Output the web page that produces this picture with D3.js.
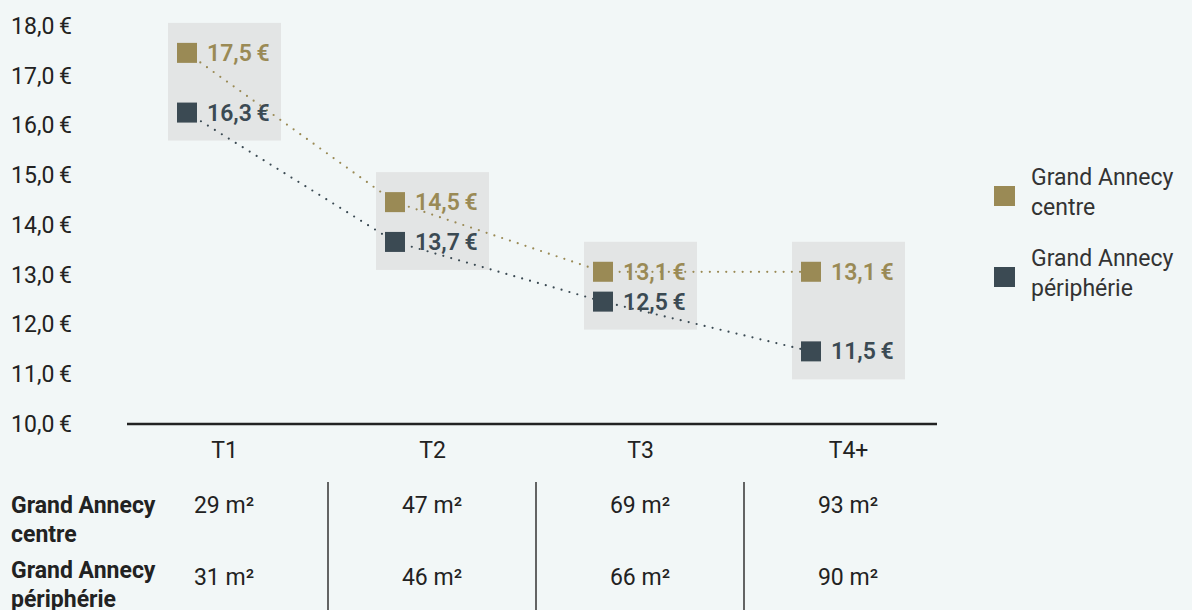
<!DOCTYPE html>
<html>
<head>
<meta charset="utf-8">
<script src="https://cdn.jsdelivr.net/npm/d3@7"></script>
<style>
  html, body { margin: 0; padding: 0; background: #f2f7f7; }
  svg { display: block; font-family: Roboto, "Noto Sans", sans-serif; }
</style>
</head>
<body>
<div id="chart"></div>
<script>
// Loyer moyen au m2 par typologie
const categories = ['T1', 'T2', 'T3', 'T4+'];
const centreValues = [17.5, 14.5, 13.1, 13.1];
const peripherieValues = [16.3, 13.7, 12.5, 11.5];
const yTickValues = [10, 11, 12, 13, 14, 15, 16, 17, 18];
const centreSurfaces = [29, 47, 69, 93];
const peripherieSurfaces = [31, 46, 66, 90];
const seriesLabels = [['Grand Annecy', 'centre'], ['Grand Annecy', 'périphérie']];

const GOLD = '#9a8a55';
const SLATE = '#3b4a53';
const BOX = '#e3e5e5';
const INK = '#222';

const width = 1192, height = 610;

const svg = d3.select('#chart').append('svg')
  .attr('width', width)
  .attr('height', height);

svg.append('rect').attr('width', width).attr('height', height).attr('fill', '#f2f7f7');

const x = d3.scalePoint().domain(categories).range([224, 848]);
const y = d3.scaleLinear().domain([10, 18]).range([426, 28]);

const fmt = v => d3.format('.1f')(v).replace('.', ',') + '\u2009€';

// y axis labels
const yAxis = d3.axisLeft(y)
  .tickValues(yTickValues)
  .tickSize(0)
  .tickPadding(0)
  .tickFormat(fmt);

const yg = svg.append('g')
  .attr('transform', 'translate(72,-2)')
  .call(yAxis);
yg.select('.domain').remove();
yg.selectAll('text')
  .attr('fill', INK)
  .style('font-family', 'Roboto, sans-serif')
  .style('font-size', '23px');

// grey boxes behind each category
const rows = categories.map((c, i) => ({
  cat: c, centre: centreValues[i], peri: peripherieValues[i]
}));

svg.append('g').selectAll('rect')
  .data(rows)
  .join('rect')
  .attr('x', d => x(d.cat) - 56)
  .attr('y', d => y(Math.max(d.centre, d.peri)) - 30)
  .attr('width', 113)
  .attr('height', d => y(Math.min(d.centre, d.peri)) - y(Math.max(d.centre, d.peri)) + 58)
  .attr('fill', BOX);

// dotted connecting lines
const markerX = d => x(d) - 37;
const series = [
  { values: centreValues, color: GOLD },
  { values: peripherieValues, color: SLATE }
];

const line = d3.line()
  .x((d, i) => markerX(categories[i]))
  .y(d => y(d));

svg.append('g').selectAll('path')
  .data(series)
  .join('path')
  .attr('d', s => line(s.values))
  .attr('fill', 'none')
  .attr('stroke', s => s.color)
  .attr('stroke-width', 2.2)
  .attr('stroke-linecap', 'round')
  .attr('stroke-dasharray', '0,8.2');

// markers and value labels
series.forEach(s => {
  const g = svg.append('g');
  g.selectAll('rect')
    .data(s.values)
    .join('rect')
    .attr('x', (d, i) => markerX(categories[i]) - 10)
    .attr('y', d => y(d) - 10)
    .attr('width', 20)
    .attr('height', 20)
    .attr('fill', s.color);

  g.selectAll('text')
    .data(s.values)
    .join('text')
    .attr('x', (d, i) => markerX(categories[i]) + 20)
    .attr('y', d => y(d))
    .attr('dy', '0.35em')
    .attr('fill', s.color)
    .style('font-size', '23px')
    .style('font-weight', 600)
    .text(fmt);
});

// baseline and category axis
svg.append('line')
  .attr('x1', 127).attr('x2', 937)
  .attr('y1', 424).attr('y2', 424)
  .attr('stroke', INK)
  .attr('stroke-width', 2.5);

const xg = svg.append('g')
  .attr('transform', 'translate(0,442)')
  .call(d3.axisBottom(x).tickSize(0).tickPadding(0));
xg.select('.domain').remove();
xg.selectAll('text')
  .attr('fill', INK)
  .style('font-family', 'Roboto, sans-serif')
  .style('font-size', '23px');

// surface table
const table = svg.append('g');
const rowY = [505, 577];
const rowLabelY = [513, 578];

seriesLabels.forEach((lines, r) => {
  table.append('text')
    .attr('y', rowLabelY[r])
    .attr('fill', INK)
    .style('font-size', '23px')
    .style('font-weight', 700)
    .selectAll('tspan')
    .data(lines)
    .join('tspan')
    .attr('x', 11)
    .attr('dy', (d, i) => i === 0 ? 0 : 29)
    .text(d => d);
});

[centreSurfaces, peripherieSurfaces].forEach((vals, r) => {
  table.append('g').selectAll('text')
    .data(vals)
    .join('text')
    .attr('x', (d, i) => x(categories[i]))
    .attr('y', rowY[r])
    .attr('dy', '0.35em')
    .attr('text-anchor', 'middle')
    .attr('fill', INK)
    .style('font-size', '23px')
    .text(d => `${d} m²`);
});

// separators between columns
table.append('g').selectAll('line')
  .data(d3.pairs(categories))
  .join('line')
  .attr('x1', d => (x(d[0]) + x(d[1])) / 2)
  .attr('x2', d => (x(d[0]) + x(d[1])) / 2)
  .attr('y1', 482)
  .attr('y2', height)
  .attr('stroke', '#333')
  .attr('stroke-width', 1.5);

// legend
const legend = svg.append('g').attr('transform', 'translate(994,0)');
const legendY = [196, 277];
seriesLabels.forEach((lines, i) => {
  legend.append('rect')
    .attr('x', 0)
    .attr('y', legendY[i] - 10)
    .attr('width', 21)
    .attr('height', 20)
    .attr('fill', series[i].color);
  legend.append('text')
    .attr('y', legendY[i] - 11)
    .attr('fill', '#333')
    .style('font-size', '23px')
    .selectAll('tspan')
    .data(lines)
    .join('tspan')
    .attr('x', 37)
    .attr('dy', (d, j) => j === 0 ? 0 : 30)
    .text(d => d);
});
</script>
</body>
</html>
